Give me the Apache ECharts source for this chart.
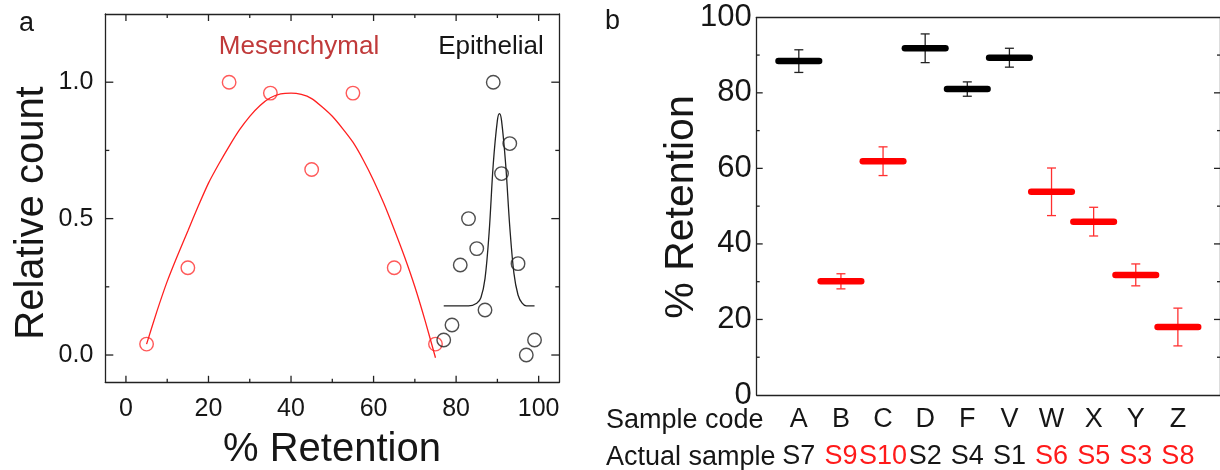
<!DOCTYPE html>
<html>
<head>
<meta charset="utf-8">
<script src="https://cdn.jsdelivr.net/npm/echarts@6/dist/echarts.min.js"></script>
<style>html,body{margin:0;padding:0;background:#fff;}#c{width:1220px;height:470px;}</style>
</head>
<body>
<div id="c"></div>
<script>
// ---------- Panel a data ----------
const mesX = [5, 15, 25, 35, 45, 55, 65, 75];
const mesY = [0.04, 0.32, 1.0, 0.96, 0.68, 0.96, 0.32, 0.04];
const mesFitX = [5, 7.5, 10, 12.5, 15, 17.5, 20, 22.5, 25, 27.5, 30, 32.5, 35, 37.5, 40, 42.5, 45, 47.5, 50, 52.5, 55, 57.5, 60, 62.5, 65, 67.5, 70, 72.5, 75];
const mesFitY = [0.04, 0.16, 0.27, 0.365, 0.455, 0.545, 0.63, 0.70, 0.765, 0.825, 0.875, 0.915, 0.943, 0.957, 0.96, 0.955, 0.94, 0.91, 0.875, 0.83, 0.78, 0.715, 0.64, 0.555, 0.46, 0.36, 0.25, 0.125, -0.01];
const epiX = [77, 79, 81, 83, 85, 87, 89, 91, 93, 95, 97, 99];
const epiY = [0.055, 0.11, 0.33, 0.50, 0.39, 0.165, 1.0, 0.665, 0.775, 0.335, 0.0, 0.055];
const epiFitX = [77, 80, 83, 85, 86, 87, 88, 89, 90, 90.5, 91, 92, 93, 94, 95, 96, 97, 99];
const epiFitY = [0.18, 0.18, 0.18, 0.19, 0.21, 0.28, 0.45, 0.70, 0.86, 0.885, 0.86, 0.70, 0.47, 0.30, 0.22, 0.19, 0.18, 0.18];
const aXMajor = [0, 20, 40, 60, 80, 100];
const aXMinor = [10, 30, 50, 70, 90];
const aYMajor = [0, 0.5, 1.0];
const aYMinor = [0.25, 0.75];

// ---------- Panel b data ----------
const sampleCode = ['A', 'B', 'C', 'D', 'F', 'V', 'W', 'X', 'Y', 'Z'];
const actualSample = ['S7', 'S9', 'S10', 'S2', 'S4', 'S1', 'S6', 'S5', 'S3', 'S8'];
const sampleType = ['epi', 'mes', 'mes', 'epi', 'epi', 'epi', 'mes', 'mes', 'mes', 'mes'];
const retention = [88.4, 30.1, 61.9, 91.8, 81.0, 89.3, 53.8, 45.9, 31.8, 18.0];
const retentionErr = [3.0, 2.0, 3.8, 3.8, 1.9, 2.5, 6.3, 3.8, 2.9, 5.0];
const samplePos = [1, 2, 3, 4, 5, 6, 7, 8, 9, 10];
const bYMajor = [20, 40, 60, 80];
const bYMinor = [10, 30, 50, 70, 90];

const FONT = '"Liberation Sans", Arial, Helvetica, sans-serif';
const INK = '#161616';
const RED = '#ff1a1a';
const AXIS = '#222';
const typeColor = { epi: '#000000', mes: '#ff0000' };
const typeErrColor = { epi: '#222222', mes: '#ff3030' };
const typeLabel = { epi: 'k', mes: 'r' };

const chart = echarts.init(document.getElementById('c'), null, { renderer: 'canvas' });

const lineStyle = { color: AXIS, width: 1.3 };
function frameAxis(extra) {
  return Object.assign({
    type: 'value', splitLine: { show: false },
    axisLine: { show: true, onZero: false, lineStyle: { color: AXIS, width: 1.3 } },
    axisLabel: { show: false },
    axisTick: { show: false }
  }, extra);
}

// tick items: [value, kind]; kind 0 = x major, 1 = x minor, 2 = y major, 3 = y minor
function tickItems(xMaj, xMin, yMaj, yMin) {
  const out = [];
  xMaj.forEach(v => out.push([v, 0]));
  xMin.forEach(v => out.push([v, 1]));
  yMaj.forEach(v => out.push([v, 2]));
  yMin.forEach(v => out.push([v, 3]));
  return out;
}
function tickRenderer(lens, mirrorX) {
  return function (params, api) {
    const cs = params.coordSys;
    const v = api.value(0), k = api.value(1);
    const len = lens[k];
    const st = { stroke: AXIS, lineWidth: 1.3 };
    const kids = [];
    if (k < 2) {
      const px = api.coord([v, 0])[0];
      const yb = cs.y + cs.height, yt = cs.y;
      kids.push({ type: 'line', shape: { x1: px, y1: yb, x2: px, y2: yb - len[0] }, style: st });
      if (mirrorX) kids.push({ type: 'line', shape: { x1: px, y1: yt, x2: px, y2: yt + len[1] }, style: st });
    } else {
      const py = api.coord([0, v])[1];
      const xl = cs.x, xr = cs.x + cs.width;
      kids.push({ type: 'line', shape: { x1: xl, y1: py, x2: xl + len[0], y2: py }, style: st });
      kids.push({ type: 'line', shape: { x1: xr, y1: py, x2: xr - len[1], y2: py }, style: st });
    }
    return { type: 'group', children: kids };
  };
}

const gA = { left: 105.3, top: 14, width: 454, height: 368.3 };
const gB = { left: 756.7, top: 17.3, width: 465, height: 379.4 };

const option = {
  animation: false,
  backgroundColor: '#ffffff',
  textStyle: { fontFamily: FONT },
  grid: [gA, gB],
  xAxis: [
    frameAxis({ gridIndex: 0, position: 'bottom', min: -5, max: 105,
      axisLabel: { show: true, customValues: aXMajor, fontSize: 25, color: INK, margin: 14, fontFamily: FONT } }),
    frameAxis({ gridIndex: 0, position: 'top', min: -5, max: 105 }),
    frameAxis({ gridIndex: 1, position: 'bottom', min: 0, max: 11,
      axisLabel: {
        show: true, customValues: samplePos, margin: 6, fontFamily: FONT,
        formatter: function (v) {
          const i = samplePos.indexOf(v);
          if (i < 0) return '';
          return '{c|' + sampleCode[i] + '}\n{' + typeLabel[sampleType[i]] + '|' + actualSample[i] + '}';
        },
        rich: {
          c: { fontSize: 27, color: INK, lineHeight: 37, fontFamily: FONT },
          k: { fontSize: 27, color: INK, lineHeight: 37, fontFamily: FONT },
          r: { fontSize: 27, color: RED, lineHeight: 37, fontFamily: FONT }
        }
      } }),
    frameAxis({ gridIndex: 1, position: 'top', min: 0, max: 11 })
  ],
  yAxis: [
    frameAxis({ gridIndex: 0, position: 'left', min: -0.1, max: 1.25,
      axisLabel: { show: true, customValues: aYMajor, fontSize: 25, color: INK, margin: 12, fontFamily: FONT,
        formatter: function (v) { return v.toFixed(1); } } }),
    frameAxis({ gridIndex: 0, position: 'right', min: -0.1, max: 1.25 }),
    frameAxis({ gridIndex: 1, position: 'left', min: 0, max: 100, interval: 20,
      axisLabel: { show: true, fontSize: 31, color: INK, margin: 5, fontFamily: FONT } }),
    frameAxis({ gridIndex: 1, position: 'right', min: 0, max: 100, interval: 20 })
  ],
  series: [
    { type: 'custom', name: 'ticks a', xAxisIndex: 0, yAxisIndex: 0, silent: true, clip: false,
      encode: { x: 0, y: 0 },
      data: tickItems(aXMajor, aXMinor, aYMajor, aYMinor),
      renderItem: tickRenderer([[6.5, 7], [3.5, 4], [8, 8], [4, 4]], true) },
    { type: 'custom', name: 'ticks b', xAxisIndex: 2, yAxisIndex: 2, silent: true, clip: false,
      encode: { x: 0, y: 0 },
      data: tickItems([], [], bYMajor, bYMinor),
      renderItem: tickRenderer([[0, 0], [0, 0], [6, 6], [3, 3]], false) },
    { type: 'line', name: 'Mesenchymal fit', xAxisIndex: 0, yAxisIndex: 0,
      data: mesFitX.map((x, i) => [x, mesFitY[i]]), smooth: 0.2, showSymbol: false,
      lineStyle: { color: '#ff2020', width: 1.3 }, silent: true },
    { type: 'scatter', name: 'Mesenchymal', xAxisIndex: 0, yAxisIndex: 0,
      data: mesX.map((x, i) => [x, mesY[i]]), symbol: 'circle', symbolSize: 13.5,
      itemStyle: { color: 'rgba(0,0,0,0)', borderColor: '#ff3030', borderWidth: 1.4 } },
    { type: 'line', name: 'Epithelial fit', xAxisIndex: 0, yAxisIndex: 0,
      data: epiFitX.map((x, i) => [x, epiFitY[i]]), smooth: 0.35, showSymbol: false,
      lineStyle: { color: '#222', width: 1.3 }, silent: true },
    { type: 'scatter', name: 'Epithelial', xAxisIndex: 0, yAxisIndex: 0,
      data: epiX.map((x, i) => [x, epiY[i]]), symbol: 'circle', symbolSize: 13.5,
      itemStyle: { color: 'rgba(0,0,0,0)', borderColor: '#222', borderWidth: 1.4 } },
    { type: 'custom', name: 'Error', xAxisIndex: 2, yAxisIndex: 2,
      data: samplePos.map((x, i) => ({ value: [x, retention[i] - retentionErr[i], retention[i] + retentionErr[i]],
        itemStyle: { color: typeErrColor[sampleType[i]] } })),
      renderItem: function (params, api) {
        const lo = api.coord([api.value(0), api.value(1)]);
        const hi = api.coord([api.value(0), api.value(2)]);
        const c = api.visual('color');
        const hw = 4.5;
        const st = { stroke: c, lineWidth: 1.3 };
        return { type: 'group', children: [
          { type: 'line', shape: { x1: lo[0], y1: lo[1], x2: hi[0], y2: hi[1] }, style: st },
          { type: 'line', shape: { x1: lo[0] - hw, y1: lo[1], x2: lo[0] + hw, y2: lo[1] }, style: st },
          { type: 'line', shape: { x1: hi[0] - hw, y1: hi[1], x2: hi[0] + hw, y2: hi[1] }, style: st }
        ] };
      } },
    { type: 'custom', name: 'Retention', xAxisIndex: 2, yAxisIndex: 2,
      data: samplePos.map((x, i) => ({ value: [x, retention[i]], itemStyle: { color: typeColor[sampleType[i]] } })),
      renderItem: function (params, api) {
        const p = api.coord([api.value(0), api.value(1)]);
        const hw = 20.3;
        return { type: 'line', shape: { x1: p[0] - hw, y1: p[1], x2: p[0] + hw, y2: p[1] },
          style: { stroke: api.visual('color'), lineWidth: 6.5, lineCap: 'round' } };
      } }
  ],
  graphic: [
    { type: 'text', left: 19, top: 10, style: { text: 'a', fontSize: 27, fill: INK, font: '27px ' + FONT } },
    { type: 'text', left: 605, top: 8, style: { text: 'b', fontSize: 27, fill: INK, font: '27px ' + FONT } },
    { type: 'text', x: 299, y: 47, style: { text: 'Mesenchymal', font: '26px ' + FONT, fill: '#c03a3a', align: 'center', verticalAlign: 'middle' } },
    { type: 'text', x: 491, y: 47, style: { text: 'Epithelial', font: '26px ' + FONT, fill: INK, align: 'center', verticalAlign: 'middle' } },
    { type: 'text', x: 32, y: 213, rotation: Math.PI / 2, style: { text: 'Relative count', font: '40px ' + FONT, fill: INK, align: 'center', verticalAlign: 'middle' } },
    { type: 'text', x: 332, y: 450, style: { text: '% Retention', font: '40px ' + FONT, fill: INK, align: 'center', verticalAlign: 'middle' } },
    { type: 'text', x: 682, y: 207, rotation: Math.PI / 2, style: { text: '% Retention', font: '41px ' + FONT, fill: INK, align: 'center', verticalAlign: 'middle' } },
    { type: 'text', x: 606, y: 421, style: { text: 'Sample code', font: '27px ' + FONT, fill: INK, align: 'left', verticalAlign: 'middle' } },
    { type: 'text', x: 606, y: 458, style: { text: 'Actual sample', font: '27px ' + FONT, fill: INK, align: 'left', verticalAlign: 'middle' } }
  ]
};
chart.setOption(option);
</script>
</body>
</html>
